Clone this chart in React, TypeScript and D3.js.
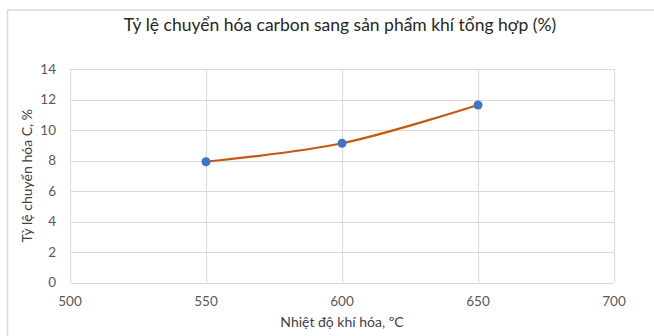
import React from "react";
import * as d3 from "d3";

const temperatures = [550, 600, 650];
const conversion = [7.92, 9.13, 11.64];
const xTicks = [500, 550, 600, 650, 700];
const yTicks = [0, 2, 4, 6, 8, 10, 12, 14];
const title = "Tỷ lệ chuyển hóa carbon sang sản phẩm khí tổng hợp (%)";
const xTitle = "Nhiệt độ khí hóa, ºC";
const yTitle = "Tỷ lệ  chuyển hóa C, %";

const W = 654;
const H = 336;
const plot = { left: 70, right: 614, top: 69, bottom: 282.5 };
const font = "Lato, 'Open Sans', sans-serif";
const grid = "#d9d9d9";
const textColor = "#595959";

export default function App() {
  const x = d3.scaleLinear().domain([500, 700]).range([plot.left, plot.right]);
  const y = d3.scaleLinear().domain([0, 14]).range([plot.bottom, plot.top]);
  const pts: [number, number][] = temperatures.map((t, i) => [x(t), y(conversion[i])]);
  const line = d3.line().curve(d3.curveCardinal.tension(0))(pts) || "";

  return (
    <svg
      width={W}
      height={H}
      style={{ position: "absolute", left: 0, top: 0, background: "#fff" }}
      fontFamily={font}
    >
      <rect x={0} y={0} width={W} height={H} fill="#fff" />
      <rect x={7.5} y={10} width={800} height={500} fill="none" stroke={grid} strokeWidth={1.5} />
      <text x={340} y={31} textAnchor="middle" fontSize={17.5} fill="#262626">
        {title}
      </text>
      {yTicks.map((t) => (
        <g key={"y" + t}>
          <line x1={plot.left} x2={plot.right} y1={Math.round(y(t)) + 0.5} y2={Math.round(y(t)) + 0.5} stroke={grid} strokeWidth={1} />
          <text x={56} y={y(t)} dy="0.35em" textAnchor="end" fontSize={13.5} fill={textColor}>
            {t}
          </text>
        </g>
      ))}
      {xTicks.map((t) => (
        <g key={"x" + t}>
          <line x1={Math.round(x(t)) + 0.5} x2={Math.round(x(t)) + 0.5} y1={plot.top} y2={plot.bottom} stroke={grid} strokeWidth={1} />
          <text x={x(t)} y={301} dy="0.35em" textAnchor="middle" fontSize={13.5} fill={textColor}>
            {t}
          </text>
        </g>
      ))}
      <text x={(plot.left + plot.right) / 2} y={322} dy="0.35em" textAnchor="middle" fontSize={14} fill="#404040">
        {xTitle}
      </text>
      <text
        transform={`translate(27,${(plot.top + plot.bottom) / 2}) rotate(-90)`}
        dy="0.35em"
        textAnchor="middle"
        fontSize={14}
        fill="#404040"
      >
        {yTitle}
      </text>
      <path d={line} fill="none" stroke="#C65911" strokeWidth={2.25} />
      {pts.map((p, i) => (
        <circle key={i} cx={p[0]} cy={p[1]} r={4.5} fill="#4472C4" />
      ))}
    </svg>
  );
}
